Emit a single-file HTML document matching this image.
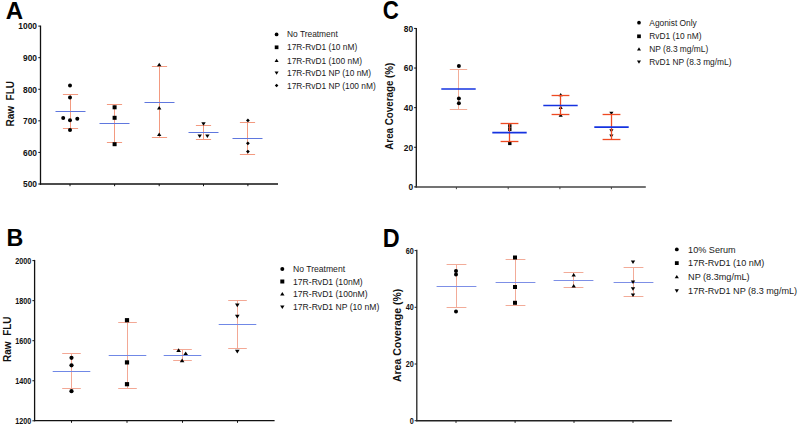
<!DOCTYPE html>
<html><head><meta charset="utf-8"><title>Figure</title>
<style>
html,body{margin:0;padding:0;background:#fff;}
body{width:799px;height:427px;overflow:hidden;}
svg{display:block;font-family:"Liberation Sans", sans-serif;}
</style></head>
<body>
<svg width="799" height="427" viewBox="0 0 799 427">
<rect width="799" height="427" fill="#fff"/>
<text x="5.80" y="18.50" font-size="24.8" font-weight="bold" text-anchor="start" fill="#000" transform="translate(5.8 0) scale(0.97 1) translate(-5.8 0)">A</text>
<text x="0" y="0" font-size="10" font-weight="bold" text-anchor="middle" fill="#111" transform="translate(10.40,103.80) rotate(-90) scale(1 1.0) translate(0,3.58)">Raw&#160;&#160;FLU</text>
<line x1="40.50" y1="25.60" x2="40.50" y2="184.70" stroke="#111" stroke-width="1.3"/>
<line x1="39.80" y1="184.00" x2="278.00" y2="184.00" stroke="#111" stroke-width="1.4"/>
<line x1="38.30" y1="184.00" x2="40.50" y2="184.00" stroke="#111" stroke-width="1"/>
<text x="0.00" y="3.01" font-size="8.4" font-weight="bold" text-anchor="end" fill="#111" transform="translate(37.00 184.00) scale(1 1.12)">500</text>
<line x1="38.30" y1="152.42" x2="40.50" y2="152.42" stroke="#111" stroke-width="1"/>
<text x="0.00" y="3.01" font-size="8.4" font-weight="bold" text-anchor="end" fill="#111" transform="translate(37.00 152.42) scale(1 1.12)">600</text>
<line x1="38.30" y1="120.84" x2="40.50" y2="120.84" stroke="#111" stroke-width="1"/>
<text x="0.00" y="3.01" font-size="8.4" font-weight="bold" text-anchor="end" fill="#111" transform="translate(37.00 120.84) scale(1 1.12)">700</text>
<line x1="38.30" y1="89.26" x2="40.50" y2="89.26" stroke="#111" stroke-width="1"/>
<text x="0.00" y="3.01" font-size="8.4" font-weight="bold" text-anchor="end" fill="#111" transform="translate(37.00 89.26) scale(1 1.12)">800</text>
<line x1="38.30" y1="57.68" x2="40.50" y2="57.68" stroke="#111" stroke-width="1"/>
<text x="0.00" y="3.01" font-size="8.4" font-weight="bold" text-anchor="end" fill="#111" transform="translate(37.00 57.68) scale(1 1.12)">900</text>
<line x1="38.30" y1="26.10" x2="40.50" y2="26.10" stroke="#111" stroke-width="1"/>
<text x="0.00" y="3.01" font-size="8.4" font-weight="bold" text-anchor="end" fill="#111" transform="translate(37.00 26.10) scale(1 1.12)">1000</text>
<line x1="70.00" y1="184.00" x2="70.00" y2="186.20" stroke="#111" stroke-width="1"/>
<line x1="114.60" y1="184.00" x2="114.60" y2="186.20" stroke="#111" stroke-width="1"/>
<line x1="159.20" y1="184.00" x2="159.20" y2="186.20" stroke="#111" stroke-width="1"/>
<line x1="203.50" y1="184.00" x2="203.50" y2="186.20" stroke="#111" stroke-width="1"/>
<line x1="247.90" y1="184.00" x2="247.90" y2="186.20" stroke="#111" stroke-width="1"/>
<line x1="70.50" y1="94.50" x2="70.50" y2="128.50" stroke="#f39a80" stroke-width="1.0"/>
<line x1="62.90" y1="94.50" x2="78.10" y2="94.50" stroke="#f39a80" stroke-width="1.0"/>
<line x1="62.90" y1="128.50" x2="78.10" y2="128.50" stroke="#f39a80" stroke-width="1.0"/>
<line x1="55.50" y1="111.50" x2="85.50" y2="111.50" stroke="#5f77de" stroke-width="1.0"/>
<circle cx="70.00" cy="85.60" r="2.00" fill="#000"/>
<circle cx="70.00" cy="97.40" r="2.00" fill="#000"/>
<circle cx="63.20" cy="118.00" r="2.00" fill="#000"/>
<circle cx="70.00" cy="120.20" r="2.00" fill="#000"/>
<circle cx="77.30" cy="118.80" r="2.00" fill="#000"/>
<circle cx="70.00" cy="130.00" r="2.00" fill="#000"/>
<line x1="114.50" y1="104.50" x2="114.50" y2="142.50" stroke="#f39a80" stroke-width="1.0"/>
<line x1="106.90" y1="104.50" x2="122.10" y2="104.50" stroke="#f39a80" stroke-width="1.0"/>
<line x1="106.90" y1="142.50" x2="122.10" y2="142.50" stroke="#f39a80" stroke-width="1.0"/>
<line x1="99.50" y1="123.50" x2="129.50" y2="123.50" stroke="#5f77de" stroke-width="1.0"/>
<rect x="112.60" y="105.30" width="4.00" height="4.00" fill="#000"/>
<rect x="112.60" y="115.80" width="4.00" height="4.00" fill="#000"/>
<rect x="112.60" y="142.20" width="4.00" height="4.00" fill="#000"/>
<line x1="159.50" y1="66.50" x2="159.50" y2="137.50" stroke="#f39a80" stroke-width="1.0"/>
<line x1="151.90" y1="66.50" x2="167.10" y2="66.50" stroke="#f39a80" stroke-width="1.0"/>
<line x1="151.90" y1="137.50" x2="167.10" y2="137.50" stroke="#f39a80" stroke-width="1.0"/>
<line x1="144.50" y1="102.50" x2="174.50" y2="102.50" stroke="#5f77de" stroke-width="1.0"/>
<path d="M159.20 62.80L161.40 66.32L157.00 66.32Z" fill="#000"/>
<path d="M159.20 106.00L161.40 109.52L157.00 109.52Z" fill="#000"/>
<path d="M159.20 132.40L161.40 135.92L157.00 135.92Z" fill="#000"/>
<line x1="203.50" y1="125.50" x2="203.50" y2="139.50" stroke="#f39a80" stroke-width="1.0"/>
<line x1="195.90" y1="125.50" x2="211.10" y2="125.50" stroke="#f39a80" stroke-width="1.0"/>
<line x1="195.90" y1="139.50" x2="211.10" y2="139.50" stroke="#f39a80" stroke-width="1.0"/>
<line x1="188.50" y1="132.50" x2="218.50" y2="132.50" stroke="#5f77de" stroke-width="1.0"/>
<path d="M203.50 125.80L205.70 122.28L201.30 122.28Z" fill="#000"/>
<path d="M199.70 138.10L201.90 134.58L197.50 134.58Z" fill="#000"/>
<path d="M207.40 138.10L209.60 134.58L205.20 134.58Z" fill="#000"/>
<line x1="247.50" y1="122.50" x2="247.50" y2="154.50" stroke="#f39a80" stroke-width="1.0"/>
<line x1="239.90" y1="122.50" x2="255.10" y2="122.50" stroke="#f39a80" stroke-width="1.0"/>
<line x1="239.90" y1="154.50" x2="255.10" y2="154.50" stroke="#f39a80" stroke-width="1.0"/>
<line x1="232.50" y1="138.50" x2="262.50" y2="138.50" stroke="#5f77de" stroke-width="1.0"/>
<path d="M247.90 118.50L249.80 120.40L247.90 122.30L246.00 120.40Z" fill="#000"/>
<path d="M247.90 141.40L249.80 143.30L247.90 145.20L246.00 143.30Z" fill="#000"/>
<path d="M247.90 149.70L249.80 151.60L247.90 153.50L246.00 151.60Z" fill="#000"/>
<circle cx="276.60" cy="34.40" r="1.85" fill="#000"/>
<text x="287.00" y="37.42" font-size="8.4" font-weight="normal" text-anchor="start" fill="#1a1a1a" >No Treatment</text>
<rect x="274.75" y="45.45" width="3.70" height="3.70" fill="#000"/>
<text x="287.00" y="50.32" font-size="8.4" font-weight="normal" text-anchor="start" fill="#1a1a1a" >17R-RvD1 (10 nM)</text>
<path d="M276.60 58.85L278.64 62.11L274.56 62.11Z" fill="#000"/>
<text x="287.00" y="63.72" font-size="8.4" font-weight="normal" text-anchor="start" fill="#1a1a1a" >17R-RvD1 (100 nM)</text>
<path d="M276.60 74.85L278.64 71.59L274.56 71.59Z" fill="#000"/>
<text x="287.00" y="76.02" font-size="8.4" font-weight="normal" text-anchor="start" fill="#1a1a1a" >17R-RvD1 NP (10 nM)</text>
<path d="M276.60 83.84L278.36 85.60L276.60 87.36L274.84 85.60Z" fill="#000"/>
<text x="287.00" y="88.62" font-size="8.4" font-weight="normal" text-anchor="start" fill="#1a1a1a" >17R-RvD1 NP (100 nM)</text>
<text x="6.60" y="246.10" font-size="24" font-weight="bold" text-anchor="start" fill="#000" transform="translate(6.6 0) scale(0.97 1) translate(-6.6 0)">B</text>
<text x="0" y="0" font-size="10" font-weight="bold" text-anchor="middle" fill="#111" transform="translate(7.80,339.20) rotate(-90) scale(1 1.0) translate(0,3.58)">Raw&#160;&#160;FLU</text>
<line x1="34.60" y1="259.90" x2="34.60" y2="421.20" stroke="#111" stroke-width="1.3"/>
<line x1="34.00" y1="420.60" x2="274.60" y2="420.60" stroke="#111" stroke-width="1.4"/>
<line x1="32.40" y1="420.80" x2="34.60" y2="420.80" stroke="#111" stroke-width="1"/>
<text x="0.00" y="2.58" font-size="7.2" font-weight="bold" text-anchor="end" fill="#111" transform="translate(31.20 420.80) scale(1 1.22)">1200</text>
<line x1="32.40" y1="380.75" x2="34.60" y2="380.75" stroke="#111" stroke-width="1"/>
<text x="0.00" y="2.58" font-size="7.2" font-weight="bold" text-anchor="end" fill="#111" transform="translate(31.20 380.75) scale(1 1.22)">1400</text>
<line x1="32.40" y1="340.70" x2="34.60" y2="340.70" stroke="#111" stroke-width="1"/>
<text x="0.00" y="2.58" font-size="7.2" font-weight="bold" text-anchor="end" fill="#111" transform="translate(31.20 340.70) scale(1 1.22)">1600</text>
<line x1="32.40" y1="300.65" x2="34.60" y2="300.65" stroke="#111" stroke-width="1"/>
<text x="0.00" y="2.58" font-size="7.2" font-weight="bold" text-anchor="end" fill="#111" transform="translate(31.20 300.65) scale(1 1.22)">1800</text>
<line x1="32.40" y1="260.60" x2="34.60" y2="260.60" stroke="#111" stroke-width="1"/>
<text x="0.00" y="2.58" font-size="7.2" font-weight="bold" text-anchor="end" fill="#111" transform="translate(31.20 260.60) scale(1 1.22)">2000</text>
<line x1="71.50" y1="420.60" x2="71.50" y2="422.80" stroke="#111" stroke-width="1"/>
<line x1="127.00" y1="420.60" x2="127.00" y2="422.80" stroke="#111" stroke-width="1"/>
<line x1="182.50" y1="420.60" x2="182.50" y2="422.80" stroke="#111" stroke-width="1"/>
<line x1="237.50" y1="420.60" x2="237.50" y2="422.80" stroke="#111" stroke-width="1"/>
<line x1="71.50" y1="353.50" x2="71.50" y2="388.50" stroke="#f3a895" stroke-width="1.0"/>
<line x1="62.20" y1="353.50" x2="80.80" y2="353.50" stroke="#f3a895" stroke-width="1.0"/>
<line x1="62.20" y1="388.50" x2="80.80" y2="388.50" stroke="#f3a895" stroke-width="1.0"/>
<line x1="52.70" y1="371.50" x2="90.30" y2="371.50" stroke="#7088e6" stroke-width="1.0"/>
<circle cx="71.50" cy="357.80" r="2.10" fill="#000"/>
<circle cx="71.50" cy="365.30" r="2.10" fill="#000"/>
<circle cx="71.50" cy="391.20" r="2.10" fill="#000"/>
<line x1="127.50" y1="322.50" x2="127.50" y2="388.50" stroke="#f3a895" stroke-width="1.0"/>
<line x1="118.20" y1="322.50" x2="136.80" y2="322.50" stroke="#f3a895" stroke-width="1.0"/>
<line x1="118.20" y1="388.50" x2="136.80" y2="388.50" stroke="#f3a895" stroke-width="1.0"/>
<line x1="108.70" y1="355.50" x2="146.30" y2="355.50" stroke="#7088e6" stroke-width="1.0"/>
<rect x="124.90" y="318.10" width="4.20" height="4.20" fill="#000"/>
<rect x="124.90" y="360.30" width="4.20" height="4.20" fill="#000"/>
<rect x="124.90" y="382.10" width="4.20" height="4.20" fill="#000"/>
<line x1="182.50" y1="349.50" x2="182.50" y2="360.50" stroke="#f3a895" stroke-width="1.0"/>
<line x1="173.20" y1="349.50" x2="191.80" y2="349.50" stroke="#f3a895" stroke-width="1.0"/>
<line x1="173.20" y1="360.50" x2="191.80" y2="360.50" stroke="#f3a895" stroke-width="1.0"/>
<line x1="163.70" y1="355.50" x2="201.30" y2="355.50" stroke="#7088e6" stroke-width="1.0"/>
<path d="M178.60 348.20L180.91 351.90L176.29 351.90Z" fill="#000"/>
<path d="M185.70 351.40L188.01 355.10L183.39 355.10Z" fill="#000"/>
<path d="M182.10 358.50L184.41 362.20L179.79 362.20Z" fill="#000"/>
<line x1="237.50" y1="300.50" x2="237.50" y2="348.50" stroke="#f3a895" stroke-width="1.0"/>
<line x1="228.20" y1="300.50" x2="246.80" y2="300.50" stroke="#f3a895" stroke-width="1.0"/>
<line x1="228.20" y1="348.50" x2="246.80" y2="348.50" stroke="#f3a895" stroke-width="1.0"/>
<line x1="218.70" y1="324.50" x2="256.30" y2="324.50" stroke="#7088e6" stroke-width="1.0"/>
<path d="M237.30 307.20L239.61 303.50L234.99 303.50Z" fill="#000"/>
<path d="M237.30 318.40L239.61 314.70L234.99 314.70Z" fill="#000"/>
<path d="M237.30 353.40L239.61 349.70L234.99 349.70Z" fill="#000"/>
<circle cx="282.30" cy="269.00" r="2.00" fill="#000"/>
<text x="293.00" y="272.10" font-size="8.6" font-weight="normal" text-anchor="start" fill="#1a1a1a" >No Treatment</text>
<rect x="280.30" y="279.50" width="4.00" height="4.00" fill="#000"/>
<text x="293.00" y="284.60" font-size="8.6" font-weight="normal" text-anchor="start" fill="#1a1a1a" >17R-RvD1 (10nM)</text>
<path d="M282.30 292.10L284.50 295.62L280.10 295.62Z" fill="#000"/>
<text x="293.00" y="297.20" font-size="8.6" font-weight="normal" text-anchor="start" fill="#1a1a1a" >17R-RvD1 (100nM)</text>
<path d="M282.30 309.00L284.50 305.48L280.10 305.48Z" fill="#000"/>
<text x="293.00" y="310.10" font-size="8.6" font-weight="normal" text-anchor="start" fill="#1a1a1a" >17R-RvD1 NP (10 nM)</text>
<text x="382.80" y="18.90" font-size="25.6" font-weight="bold" text-anchor="start" fill="#000" transform="translate(382.8 0) scale(0.87 1) translate(-382.8 0)">C</text>
<text x="0" y="0" font-size="9.8" font-weight="bold" text-anchor="middle" fill="#111" transform="translate(389.50,106.20) rotate(-90) scale(1 1.06) translate(0,3.51)">Area Coverage (%)</text>
<line x1="416.30" y1="27.90" x2="416.30" y2="187.60" stroke="#111" stroke-width="1.3"/>
<line x1="415.60" y1="187.00" x2="645.80" y2="187.00" stroke="#444" stroke-width="1.4"/>
<line x1="414.10" y1="186.90" x2="416.30" y2="186.90" stroke="#111" stroke-width="1"/>
<text x="0.00" y="3.01" font-size="8.4" font-weight="bold" text-anchor="end" fill="#111" transform="translate(413.10 186.90) scale(1 1.12)">0</text>
<line x1="414.10" y1="147.28" x2="416.30" y2="147.28" stroke="#111" stroke-width="1"/>
<text x="0.00" y="3.01" font-size="8.4" font-weight="bold" text-anchor="end" fill="#111" transform="translate(413.10 147.28) scale(1 1.12)">20</text>
<line x1="414.10" y1="107.66" x2="416.30" y2="107.66" stroke="#111" stroke-width="1"/>
<text x="0.00" y="3.01" font-size="8.4" font-weight="bold" text-anchor="end" fill="#111" transform="translate(413.10 107.66) scale(1 1.12)">40</text>
<line x1="414.10" y1="68.04" x2="416.30" y2="68.04" stroke="#111" stroke-width="1"/>
<text x="0.00" y="3.01" font-size="8.4" font-weight="bold" text-anchor="end" fill="#111" transform="translate(413.10 68.04) scale(1 1.12)">60</text>
<line x1="414.10" y1="28.42" x2="416.30" y2="28.42" stroke="#111" stroke-width="1"/>
<text x="0.00" y="3.01" font-size="8.4" font-weight="bold" text-anchor="end" fill="#111" transform="translate(413.10 28.42) scale(1 1.12)">80</text>
<line x1="456.40" y1="187.00" x2="456.40" y2="189.20" stroke="#444" stroke-width="1"/>
<line x1="508.20" y1="187.00" x2="508.20" y2="189.20" stroke="#444" stroke-width="1"/>
<line x1="559.90" y1="187.00" x2="559.90" y2="189.20" stroke="#444" stroke-width="1"/>
<line x1="611.40" y1="187.00" x2="611.40" y2="189.20" stroke="#444" stroke-width="1"/>
<line x1="458.50" y1="69.50" x2="458.50" y2="109.50" stroke="#f3ad98" stroke-width="1.0"/>
<line x1="449.80" y1="69.50" x2="467.20" y2="69.50" stroke="#f3ad98" stroke-width="1.0"/>
<line x1="449.80" y1="109.50" x2="467.20" y2="109.50" stroke="#f3ad98" stroke-width="1.0"/>
<line x1="441.30" y1="89.00" x2="475.70" y2="89.00" stroke="#1533e0" stroke-width="1.7"/>
<circle cx="458.90" cy="66.00" r="2.00" fill="#000"/>
<circle cx="458.90" cy="98.50" r="2.00" fill="#000"/>
<circle cx="458.90" cy="103.20" r="2.00" fill="#000"/>
<rect x="508.10" y="124.20" width="3.40" height="3.40" fill="#000"/>
<rect x="508.10" y="127.60" width="3.40" height="3.40" fill="#000"/>
<rect x="508.10" y="141.70" width="3.40" height="3.40" fill="#000"/>
<line x1="509.50" y1="123.50" x2="509.50" y2="141.50" stroke="#ee4a22" stroke-width="1.3"/>
<line x1="500.60" y1="123.50" x2="518.40" y2="123.50" stroke="#ee4a22" stroke-width="1.3"/>
<line x1="500.60" y1="141.50" x2="518.40" y2="141.50" stroke="#ee4a22" stroke-width="1.3"/>
<line x1="492.30" y1="132.60" x2="526.70" y2="132.60" stroke="#1533e0" stroke-width="1.7"/>
<path d="M560.70 92.90L562.79 96.24L558.61 96.24Z" fill="#000"/>
<path d="M560.70 105.60L562.79 108.94L558.61 108.94Z" fill="#000"/>
<path d="M560.70 113.30L562.79 116.64L558.61 116.64Z" fill="#000"/>
<line x1="560.50" y1="95.50" x2="560.50" y2="114.50" stroke="#ee4a22" stroke-width="1.3"/>
<line x1="551.60" y1="95.50" x2="569.40" y2="95.50" stroke="#ee4a22" stroke-width="1.3"/>
<line x1="551.60" y1="114.50" x2="569.40" y2="114.50" stroke="#ee4a22" stroke-width="1.3"/>
<line x1="543.30" y1="105.50" x2="577.70" y2="105.50" stroke="#1533e0" stroke-width="1.7"/>
<path d="M611.40 115.00L613.49 111.66L609.31 111.66Z" fill="#000"/>
<path d="M611.40 132.60L613.49 129.26L609.31 129.26Z" fill="#000"/>
<path d="M611.40 137.80L613.49 134.46L609.31 134.46Z" fill="#000"/>
<line x1="611.50" y1="114.50" x2="611.50" y2="139.50" stroke="#ee4a22" stroke-width="1.3"/>
<line x1="602.60" y1="114.50" x2="620.40" y2="114.50" stroke="#ee4a22" stroke-width="1.3"/>
<line x1="602.60" y1="139.50" x2="620.40" y2="139.50" stroke="#ee4a22" stroke-width="1.3"/>
<line x1="594.30" y1="127.20" x2="628.70" y2="127.20" stroke="#1533e0" stroke-width="1.7"/>
<circle cx="639.00" cy="22.70" r="1.85" fill="#000"/>
<text x="649.30" y="25.72" font-size="8.4" font-weight="normal" text-anchor="start" fill="#1a1a1a" >Agonist Only</text>
<rect x="637.15" y="34.45" width="3.70" height="3.70" fill="#000"/>
<text x="649.30" y="39.32" font-size="8.4" font-weight="normal" text-anchor="start" fill="#1a1a1a" >RvD1 (10 nM)</text>
<path d="M639.00 47.35L641.03 50.61L636.97 50.61Z" fill="#000"/>
<text x="649.30" y="52.22" font-size="8.4" font-weight="normal" text-anchor="start" fill="#1a1a1a" >NP (8.3 mg/mL)</text>
<path d="M639.00 63.75L641.03 60.49L636.97 60.49Z" fill="#000"/>
<text x="649.30" y="64.92" font-size="8.4" font-weight="normal" text-anchor="start" fill="#1a1a1a" >RvD1 NP (8.3 mg/mL)</text>
<text x="382.80" y="247.10" font-size="25.2" font-weight="bold" text-anchor="start" fill="#000" transform="translate(382.8 0) scale(0.93 1) translate(-382.8 0)">D</text>
<text x="0" y="0" font-size="10.5" font-weight="bold" text-anchor="middle" fill="#111" transform="translate(397.60,335.40) rotate(-90) scale(1 1.0) translate(0,3.76)">Area Coverage (%)</text>
<line x1="416.80" y1="249.80" x2="416.80" y2="421.30" stroke="#222" stroke-width="1.3"/>
<line x1="416.20" y1="420.70" x2="671.90" y2="420.70" stroke="#222" stroke-width="1.4"/>
<line x1="414.60" y1="420.70" x2="416.80" y2="420.70" stroke="#222" stroke-width="1"/>
<text x="0.00" y="2.58" font-size="7.2" font-weight="bold" text-anchor="end" fill="#111" transform="translate(413.70 420.70) scale(1 1.22)">0</text>
<line x1="414.60" y1="364.00" x2="416.80" y2="364.00" stroke="#222" stroke-width="1"/>
<text x="0.00" y="2.58" font-size="7.2" font-weight="bold" text-anchor="end" fill="#111" transform="translate(413.70 364.00) scale(1 1.22)">20</text>
<line x1="414.60" y1="307.30" x2="416.80" y2="307.30" stroke="#222" stroke-width="1"/>
<text x="0.00" y="2.58" font-size="7.2" font-weight="bold" text-anchor="end" fill="#111" transform="translate(413.70 307.30) scale(1 1.22)">40</text>
<line x1="414.60" y1="250.60" x2="416.80" y2="250.60" stroke="#222" stroke-width="1"/>
<text x="0.00" y="2.58" font-size="7.2" font-weight="bold" text-anchor="end" fill="#111" transform="translate(413.70 250.60) scale(1 1.22)">60</text>
<line x1="456.00" y1="420.70" x2="456.00" y2="422.90" stroke="#222" stroke-width="1"/>
<line x1="515.10" y1="420.70" x2="515.10" y2="422.90" stroke="#222" stroke-width="1"/>
<line x1="574.00" y1="420.70" x2="574.00" y2="422.90" stroke="#222" stroke-width="1"/>
<line x1="633.00" y1="420.70" x2="633.00" y2="422.90" stroke="#222" stroke-width="1"/>
<line x1="456.50" y1="264.50" x2="456.50" y2="307.50" stroke="#f2ab98" stroke-width="1.0"/>
<line x1="446.60" y1="264.50" x2="466.40" y2="264.50" stroke="#f2ab98" stroke-width="1.0"/>
<line x1="446.60" y1="307.50" x2="466.40" y2="307.50" stroke="#f2ab98" stroke-width="1.0"/>
<line x1="436.60" y1="286.50" x2="476.40" y2="286.50" stroke="#7d8fe6" stroke-width="1.0"/>
<circle cx="456.00" cy="271.00" r="2.00" fill="#000"/>
<circle cx="456.00" cy="274.60" r="2.00" fill="#000"/>
<circle cx="456.00" cy="311.50" r="2.00" fill="#000"/>
<line x1="515.50" y1="259.50" x2="515.50" y2="305.50" stroke="#f2ab98" stroke-width="1.0"/>
<line x1="505.60" y1="259.50" x2="525.40" y2="259.50" stroke="#f2ab98" stroke-width="1.0"/>
<line x1="505.60" y1="305.50" x2="525.40" y2="305.50" stroke="#f2ab98" stroke-width="1.0"/>
<line x1="495.60" y1="282.50" x2="535.40" y2="282.50" stroke="#7d8fe6" stroke-width="1.0"/>
<rect x="513.00" y="255.50" width="4.00" height="4.00" fill="#000"/>
<rect x="513.00" y="285.00" width="4.00" height="4.00" fill="#000"/>
<rect x="513.00" y="300.80" width="4.00" height="4.00" fill="#000"/>
<line x1="573.50" y1="272.50" x2="573.50" y2="287.50" stroke="#f2ab98" stroke-width="1.0"/>
<line x1="563.60" y1="272.50" x2="583.40" y2="272.50" stroke="#f2ab98" stroke-width="1.0"/>
<line x1="563.60" y1="287.50" x2="583.40" y2="287.50" stroke="#f2ab98" stroke-width="1.0"/>
<line x1="553.60" y1="280.50" x2="593.40" y2="280.50" stroke="#7d8fe6" stroke-width="1.0"/>
<path d="M573.70 272.90L575.90 276.42L571.50 276.42Z" fill="#000"/>
<path d="M573.70 284.00L575.90 287.52L571.50 287.52Z" fill="#000"/>
<line x1="633.50" y1="267.50" x2="633.50" y2="296.50" stroke="#f2ab98" stroke-width="1.0"/>
<line x1="623.60" y1="267.50" x2="643.40" y2="267.50" stroke="#f2ab98" stroke-width="1.0"/>
<line x1="623.60" y1="296.50" x2="643.40" y2="296.50" stroke="#f2ab98" stroke-width="1.0"/>
<line x1="613.60" y1="282.50" x2="653.40" y2="282.50" stroke="#7d8fe6" stroke-width="1.0"/>
<path d="M633.00 264.10L635.20 260.58L630.80 260.58Z" fill="#000"/>
<path d="M633.00 284.00L635.20 280.48L630.80 280.48Z" fill="#000"/>
<path d="M633.00 290.80L635.20 287.28L630.80 287.28Z" fill="#000"/>
<path d="M633.00 297.00L635.20 293.48L630.80 293.48Z" fill="#000"/>
<circle cx="676.80" cy="249.40" r="1.90" fill="#000"/>
<text x="688.10" y="252.68" font-size="9.1" font-weight="normal" text-anchor="start" fill="#1a1a1a" >10% Serum</text>
<rect x="674.90" y="261.20" width="3.80" height="3.80" fill="#000"/>
<text x="688.10" y="266.38" font-size="9.1" font-weight="normal" text-anchor="start" fill="#1a1a1a" >17R-RvD1 (10 nM)</text>
<path d="M676.80 275.00L678.89 278.34L674.71 278.34Z" fill="#000"/>
<text x="688.10" y="280.18" font-size="9.1" font-weight="normal" text-anchor="start" fill="#1a1a1a" >NP (8.3mg/mL)</text>
<path d="M676.80 292.70L678.89 289.36L674.71 289.36Z" fill="#000"/>
<text x="688.10" y="294.08" font-size="9.1" font-weight="normal" text-anchor="start" fill="#1a1a1a" >17R-RvD1 NP (8.3 mg/mL)</text>
</svg>
</body></html>
